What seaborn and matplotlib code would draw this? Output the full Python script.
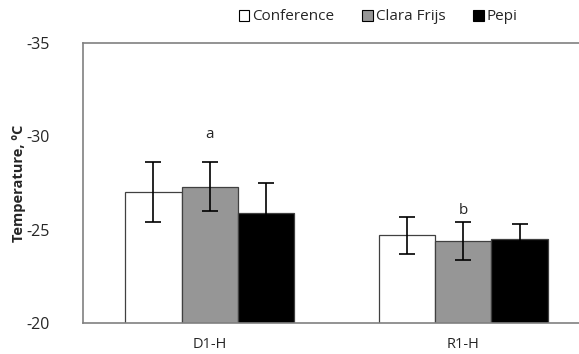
import pandas as pd
import matplotlib
matplotlib.use("Agg")
import matplotlib.pyplot as plt
import seaborn as sns
from matplotlib.patches import Patch

sns.set_style("white")
plt.rcParams['font.family'] = ['Open Sans', 'DejaVu Sans']
plt.rcParams['axes.unicode_minus'] = False

# Data
groups = ["D1-H", "R1-H"]
cultivars = ["Conference", "Clara Frijs", "Pepi"]
conference = [-27.0, -24.7]
clara_frijs = [-27.3, -24.4]
pepi = [-25.9, -24.5]
conference_err = [1.6, 1.0]
clara_frijs_err = [1.3, 1.0]
pepi_err = [1.6, 0.8]
letters = ["a", "b"]
letter_y = [-30.1, -26.0]

colors = ["#ffffff", "#969696", "#000000"]

rows = []
for name, vals, errs in zip(cultivars, [conference, clara_frijs, pepi],
                            [conference_err, clara_frijs_err, pepi_err]):
    for g, v, e in zip(groups, vals, errs):
        rows.append({"group": g, "cultivar": name, "temp": v, "err": e})
df = pd.DataFrame(rows)

fig = plt.figure(figsize=(5.79, 3.54), dpi=100)
ax = fig.add_axes([83 / 579, 31 / 354, 507 / 579, 280 / 354])

sns.barplot(data=df, x="group", y="temp", hue="cultivar", order=groups,
            hue_order=cultivars, palette=colors, width=0.667,
            edgecolor="#404040", linewidth=0.9, errorbar=None, legend=False, ax=ax)

# error bars on the bar centres
for cont, name in zip(ax.containers, cultivars):
    sub = df[df.cultivar == name].set_index("group").loc[groups]
    xs = [p.get_x() + p.get_width() / 2 for p in cont.patches]
    ax.errorbar(xs, sub["temp"], yerr=sub["err"], fmt="none", ecolor="black",
                elinewidth=1.2, capsize=6, capthick=1.2, zorder=5)

for i, (t, y) in enumerate(zip(letters, letter_y)):
    ax.text(i, y, t, ha="center", va="center", fontsize=11)

ax.set_xlim(-0.5, 1.5)
ax.set_ylim(-20, -35)
ax.set_yticks([-20, -25, -30, -35])
ax.set_xlabel("")
ax.set_ylabel("Temperature, ºC", fontsize=10.5, fontweight="bold")
ax.yaxis.set_label_coords(-57 / 507, 0.5)
ax.tick_params(axis="y", direction="in", length=6, color="#808080", labelsize=11.5)
ax.tick_params(axis="y", pad=24)
ax.tick_params(axis="x", length=0, labelsize=10.5, pad=10)
for s in ["left", "top", "bottom"]:
    ax.spines[s].set_color("#808080")
    ax.spines[s].set_linewidth(1.2)
ax.spines["right"].set_visible(False)

handles = [Patch(facecolor=c, edgecolor="black", linewidth=0.8) for c in colors]
fig.legend(handles, cultivars, loc="center", bbox_to_anchor=(378 / 579, 1 - 17 / 354),
           ncol=3, frameon=False, fontsize=11, handlelength=0.7, handleheight=0.7,
           handletextpad=0.2, columnspacing=1.8)

fig.savefig("out.png", dpi=100)
